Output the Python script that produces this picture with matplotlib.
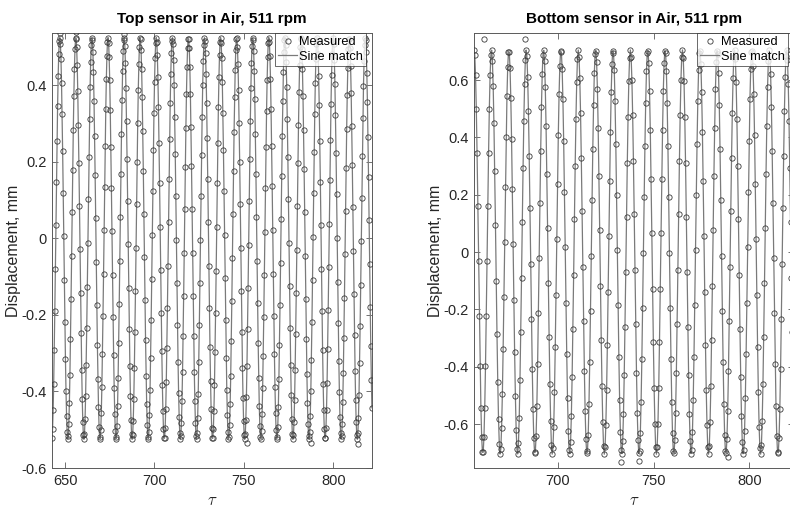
import numpy as np
import matplotlib
matplotlib.use("Agg")
import matplotlib.pyplot as plt
from matplotlib.ticker import FixedLocator, FuncFormatter

plt.rcParams['font.family'] = ['Liberation Sans', 'DejaVu Sans']
plt.rcParams['mathtext.fontset'] = 'cm'

# ---- sampling of the two displacement records ----
top_tau_range = (642.7, 821.6)
top_tau_step = 0.3132
bottom_tau_range = (656.3, 823.3)
bottom_tau_step = 0.40

# ---- fitted sine parameters (amplitude mm, period, time of a trough, mean mm) ----
top_amplitude = 0.525
top_period = 8.99
top_trough_tau = 642.55
top_mean = 0.0

bottom_amplitude = 0.705
bottom_period = 9.06
bottom_trough_tau = 660.9
bottom_mean = 0.0

# ---- isolated readings (tau, mm) ----
top_extra_tau = [647.0, 656.2, 683.0, 751.5, 787.5, 814.0]
top_extra_val = [0.536, 0.540, 0.535, -0.535, -0.535, -0.537]
bottom_extra_tau = [661.5, 683.0, 733.0, 742.5, 789.0]
bottom_extra_val = [0.744, 0.742, -0.733, -0.728, -0.714]

# ---- axis settings ----
top_xlim = (642.7, 821.6)
top_ylim = (-0.6, 0.537)
top_xticks = [650, 700, 750, 800]
top_yticks = [-0.6, -0.4, -0.2, 0, 0.2, 0.4]
bottom_xlim = (656.3, 823.3)
bottom_ylim = (-0.753, 0.764)
bottom_xticks = [700, 750, 800]
bottom_yticks = [-0.6, -0.4, -0.2, 0, 0.2, 0.4, 0.6]

titles = ["Top sensor in Air, 511 rpm", "Bottom sensor in Air, 511 rpm"]


def sine_fit(tau, amp, period, trough, mean):
    return mean - amp * np.cos(2 * np.pi * (tau - trough) / period)


def fmt(v, pos):
    s = f"{v:g}"
    return "0" if s in ("0", "-0") else s


fig = plt.figure(figsize=(7.9, 5.11), dpi=100)
ax_l = fig.add_axes([52 / 790, 1 - 468 / 511, 320 / 790, 435 / 511])
ax_r = fig.add_axes([474 / 790, 1 - 468 / 511, 320 / 790, 435 / 511])

panels = [
    (ax_l, top_tau_range, top_tau_step, top_amplitude, top_period, top_trough_tau,
     top_mean, top_extra_tau, top_extra_val, top_xlim, top_ylim, top_xticks, top_yticks),
    (ax_r, bottom_tau_range, bottom_tau_step, bottom_amplitude, bottom_period,
     bottom_trough_tau, bottom_mean, bottom_extra_tau, bottom_extra_val,
     bottom_xlim, bottom_ylim, bottom_xticks, bottom_yticks),
]

axis_col = '#5a5a5a'
text_col = '#262626'

for i, (ax, rng, step, amp, per, tr, mean, ex_t, ex_v, xl, yl, xt, yt) in enumerate(panels):
    tau = np.arange(rng[0], rng[1] + 1e-9, step)
    measured = sine_fit(tau, amp, per, tr, mean)
    fitted = sine_fit(tau, amp, per, tr, mean)
    ax.plot(tau, measured, linestyle='none', marker='o', markersize=3.8,
            markerfacecolor='none', markeredgecolor='#3a3a3a', markeredgewidth=0.6,
            label='Measured', zorder=3)
    ax.plot(ex_t, ex_v, linestyle='none', marker='o', markersize=3.8,
            markerfacecolor='none', markeredgecolor='#3a3a3a', markeredgewidth=0.6,
            zorder=3)
    ax.plot(tau, fitted, color='#7a7a7a', linewidth=0.9, label='Sine match', zorder=2)

    ax.set_xlim(*xl)
    ax.set_ylim(*yl)
    ax.xaxis.set_major_locator(FixedLocator(xt))
    ax.yaxis.set_major_locator(FixedLocator(yt))
    ax.yaxis.set_major_formatter(FuncFormatter(fmt))
    ax.tick_params(direction='in', length=4, width=0.6, colors=axis_col,
                   labelcolor=text_col, labelsize=10.5, top=True, right=True, pad=4)
    for s in ax.spines.values():
        s.set_color(axis_col)
        s.set_linewidth(0.7)

    ax.set_title(titles[i], fontsize=11, fontweight='bold', color='black', pad=7)
    ax.set_ylabel('Displacement, mm', fontsize=11.5, color=text_col, labelpad=0)
    ax.set_xlabel(r'$\tau$', fontsize=12, color=text_col, labelpad=4)

    leg = ax.legend(loc='upper right', bbox_to_anchor=(1 - 6 / 320, 1.0),
                    fontsize=9.2, frameon=True, fancybox=False,
                    borderpad=0.25, handlelength=1.45, handletextpad=0.15,
                    labelspacing=0.2, borderaxespad=0.0, edgecolor='#262626')
    leg.get_frame().set_linewidth(0.6)

fig.savefig('out.png', dpi=100)
